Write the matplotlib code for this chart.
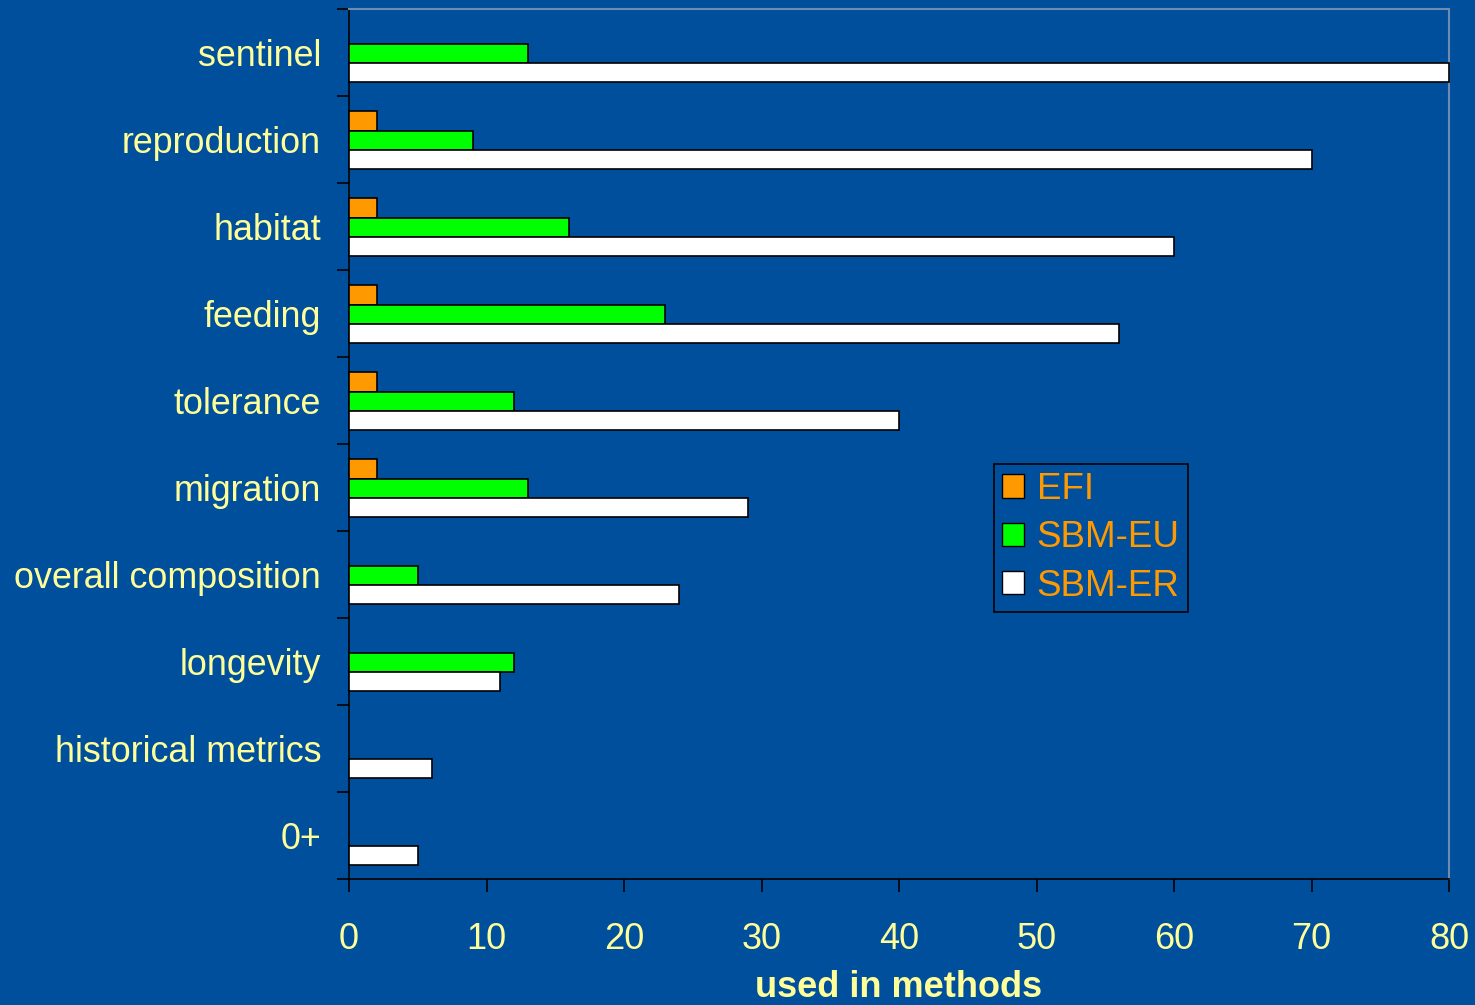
import numpy as np
import matplotlib
matplotlib.use("Agg")
import matplotlib.pyplot as plt
from matplotlib.patches import Patch

categories = ["sentinel", "reproduction", "habitat", "feeding", "tolerance",
              "migration", "overall composition", "longevity",
              "historical metrics", "0+"]
efi = [0, 2, 2, 2, 2, 2, 0, 0, 0, 0]
sbm_eu = [13, 9, 16, 23, 12, 13, 5, 12, 0, 0]
sbm_er = [80, 70, 60, 56, 40, 29, 24, 11, 6, 5]
xticks = [0, 10, 20, 30, 40, 50, 60, 70, 80]

bg = "#004F9D"
yellow = "#FFFF99"
orange = "#FF9900"

plt.rcParams["font.family"] = ["Liberation Sans", "DejaVu Sans"]

fig = plt.figure(figsize=(14.75, 10.05), dpi=100, facecolor=bg)
ax = fig.add_axes([349 / 1475, 1 - 879 / 1005, 1100 / 1475, 870 / 1005])
ax.set_facecolor(bg)

y = np.arange(len(categories))
h = 0.222
series = [(efi, orange, "EFI", -h), (sbm_eu, "#00FF00", "SBM-EU", 0),
          (sbm_er, "white", "SBM-ER", h)]
for vals, col, name, off in series:
    for yi, v in zip(y, vals):
        if v > 0:
            ax.barh(yi + off + 0.01, v, height=h, color=col, edgecolor="black",
                    linewidth=1.2, clip_on=False, zorder=3)

ax.set_xlim(0, 80)
ax.set_ylim(len(categories) - 0.5, -0.5)

ax.set_xticks(xticks)
ax.set_xticklabels([str(t) for t in xticks])
ax.set_yticks(y)
ax.set_yticklabels(categories)
ax.set_yticks(np.arange(len(categories) + 1) - 0.5, minor=True)

ax.tick_params(axis="y", which="major", length=0, pad=20, labelsize=25.8,
               labelcolor=yellow)
ax.tick_params(axis="y", which="minor", length=9, width=1.2, color="black",
               direction="out")
ax.tick_params(axis="x", length=9, width=1.2, color="black", direction="out",
               pad=22, labelsize=26, labelcolor=yellow)

for side in ["left", "bottom"]:
    ax.spines[side].set_color("black")
    ax.spines[side].set_linewidth(1.2)
for side in ["top", "right"]:
    ax.spines[side].set_color("#6F8BAE")
    ax.spines[side].set_linewidth(1.5)

ax.set_xlabel("used in methods", fontsize=26, fontweight="bold",
              color=yellow)
ax.xaxis.set_label_coords(0.5, -0.125)
ax.xaxis.label.set_va("center")

handles = [Patch(facecolor=c, edgecolor="black", label=n)
           for _, c, n, _ in series]
leg = ax.legend(handles=handles, loc="upper left",
                bbox_to_anchor=(0.586, 0.477), fontsize=26.5,
                frameon=True, fancybox=False, facecolor=bg,
                edgecolor="black", framealpha=1, handlelength=0.6,
                handleheight=0.6, handletextpad=0.35, labelspacing=0.36,
                borderpad=0.22, borderaxespad=0)
for t in leg.get_texts():
    t.set_color(orange)
leg.get_frame().set_linewidth(1.2)

fig.savefig("out.png", dpi=100, facecolor=bg)
